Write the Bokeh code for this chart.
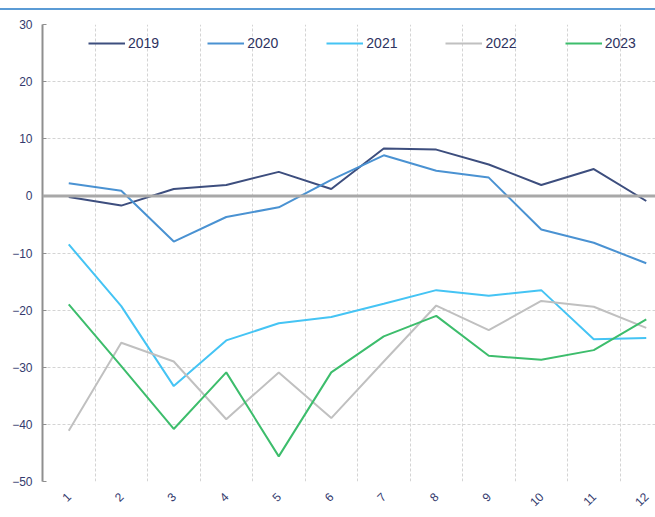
from bokeh.plotting import figure
from bokeh.models import Range1d, FixedTicker, Legend, LegendItem, Span, Div
from bokeh.layouts import column
from bokeh.embed import file_html
from bokeh.resources import INLINE
import math

months = [1, 2, 3, 4, 5, 6, 7, 8, 9, 10, 11, 12]
y2019 = [-0.2, -1.7, 1.2, 1.9, 4.2, 1.2, 8.3, 8.1, 5.5, 1.9, 4.7, -0.9]
y2020 = [2.2, 0.9, -8.0, -3.7, -2.0, 2.8, 7.1, 4.4, 3.2, -5.9, -8.2, -11.8]
y2021 = [-8.5, -19.3, -33.3, -25.3, -22.3, -21.2, -18.9, -16.5, -17.5, -16.5, -25.1, -24.9]
y2022 = [-41.1, -25.7, -29.0, -39.1, -30.9, -38.9, -29.0, -19.2, -23.5, -18.4, -19.4, -23.1]
y2023 = [-19.0, -29.8, -40.8, -30.9, -45.6, -30.9, -24.6, -21.0, -28.0, -28.7, -27.0, -21.6]
series_names = ["2019", "2020", "2021", "2022", "2023"]
y_ticks = [-50, -40, -30, -20, -10, 0, 10, 20, 30]
x_grid = [1.5, 2.5, 3.5, 4.5, 5.5, 6.5, 7.5, 8.5, 9.5, 10.5, 11.5]

colors = ["#3d4e7e", "#4a92d2", "#45c4f4", "#c0c0c0", "#3dbd6c"]

p = figure(width=655, height=503, output_backend="svg", toolbar_location=None,
           x_range=Range1d(0.5, 12.176), y_range=Range1d(-50, 30),
           min_border_left=42, min_border_right=0, min_border_top=14, min_border_bottom=30)
p.outline_line_color = None
p.background_fill_color = "white"

# grids
p.ygrid.ticker = FixedTicker(ticks=y_ticks)
p.ygrid.grid_line_color = "#d4d4d4"
p.ygrid.grid_line_dash = "3 2"
p.ygrid.grid_line_width = 1
p.xgrid.ticker = FixedTicker(ticks=x_grid)
p.xgrid.grid_line_color = "#d4d4d4"
p.xgrid.grid_line_dash = "3 2"
p.xgrid.grid_line_width = 1

# zero line
p.add_layout(Span(location=0, dimension="width", line_color="#a8a8a8", line_width=3))

# axes
p.yaxis.ticker = FixedTicker(ticks=y_ticks)
p.yaxis.axis_line_color = "#8f8f8f"
p.yaxis.axis_line_width = 2
p.yaxis.major_tick_in = 4
p.yaxis.major_tick_out = 0
p.yaxis.major_tick_line_color = "#8f8f8f"
p.yaxis.minor_tick_line_color = None
p.yaxis.major_label_standoff = 10
p.yaxis.major_label_text_font = "Liberation Sans"
p.yaxis.major_label_text_font_size = "12px"
p.yaxis.major_label_text_color = "#343a6e"

p.xaxis.ticker = FixedTicker(ticks=months)
p.xaxis.axis_line_color = None
p.xaxis.major_tick_line_color = None
p.xaxis.minor_tick_line_color = None
p.xaxis.major_label_orientation = math.pi / 4
p.xaxis.major_label_standoff = 7
p.xaxis.major_label_text_font = "Liberation Sans"
p.xaxis.major_label_text_font_size = "12px"
p.xaxis.major_label_text_color = "#343a6e"

items = []
for name, ys, c in zip(series_names, [y2019, y2020, y2021, y2022, y2023], colors):
    r = p.line(months, ys, line_color=c, line_width=2)
    items.append(LegendItem(label=name, renderers=[r]))

legend = Legend(items=items, orientation="horizontal", location=(46, 428),
                padding=0, margin=0, spacing=48, glyph_width=37, glyph_height=20,
                label_standoff=3, label_text_font="Liberation Sans",
                label_text_font_size="14px", label_text_color="#2e3360",
                background_fill_alpha=0, border_line_color=None)
p.add_layout(legend)

header = Div(text="", width=655, height=2, margin=(8, 0, 0, 0),
             styles={"background-color": "#5b9bd5"})
layout = column(header, p, spacing=0)

open("out.html", "w").write(file_html(layout, INLINE))
